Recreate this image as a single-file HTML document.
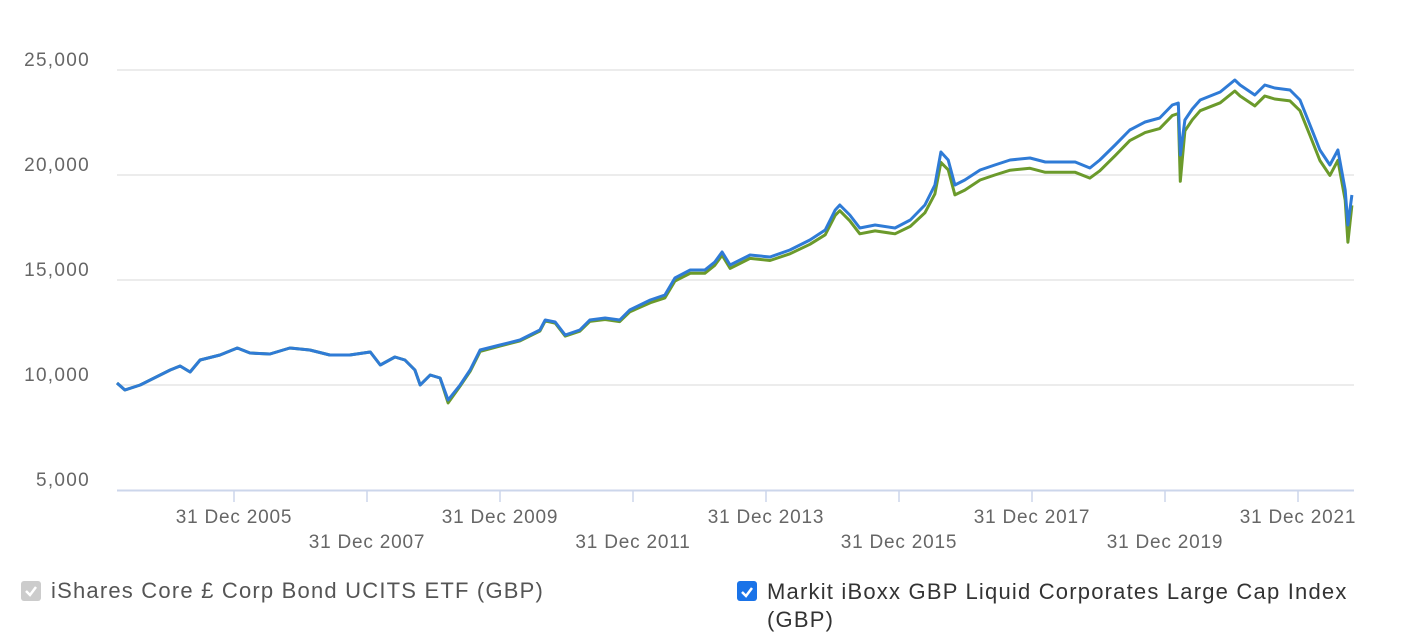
<!DOCTYPE html>
<html><head><meta charset="utf-8"><style>
body{margin:0;width:1420px;height:631px;background:#fff;font-family:"Liberation Sans",sans-serif;overflow:hidden;position:relative}
.leg{position:absolute;font-size:22px;color:#555;display:flex;align-items:flex-start;letter-spacing:1.2px}
.cb{width:20px;height:20px;border-radius:3px;margin-right:10px;margin-top:3px;flex:none;position:relative}
</style></head><body>
<svg width="1420" height="580" style="position:absolute;left:0;top:0" id="chart"></svg>
<div class="leg" style="left:21px;top:578px"><div class="cb" style="background:#ccc"><svg width="20" height="20"><path d="M5 10 L9 14 L15 6" stroke="#fff" stroke-width="2.5" fill="none"/></svg></div><span>iShares Core £ Corp Bond UCITS ETF (GBP)</span></div>
<div class="leg" style="left:737px;top:578px;width:650px;line-height:28px"><div class="cb" style="background:#1a73e8"><svg width="20" height="20"><path d="M5 10 L9 14 L15 6" stroke="#fff" stroke-width="2.5" fill="none"/></svg></div><span style="color:#333">Markit iBoxx GBP Liquid Corporates Large Cap Index (GBP)</span></div>
<script>
const dates=[2004.24,2004.36,2004.59,2005.04,2005.19,2005.34,2005.49,2005.79,2006.05,2006.24,2006.54,2006.84,2007.14,2007.44,2007.74,2008.05,2008.20,2008.42,2008.57,2008.72,2008.80,2008.95,2009.10,2009.22,2009.40,2009.55,2009.70,2010.00,2010.30,2010.60,2010.68,2010.83,2010.98,2011.20,2011.35,2011.58,2011.80,2011.95,2012.26,2012.48,2012.63,2012.86,2013.08,2013.23,2013.34,2013.46,2013.61,2013.76,2014.06,2014.36,2014.66,2014.89,2015.04,2015.11,2015.26,2015.41,2015.64,2015.94,2016.17,2016.39,2016.54,2016.63,2016.74,2016.84,2016.99,2017.22,2017.44,2017.67,2017.97,2018.20,2018.42,2018.65,2018.87,2019.02,2019.25,2019.47,2019.70,2019.92,2020.11,2020.20,2020.23,2020.30,2020.41,2020.53,2020.83,2021.05,2021.13,2021.35,2021.50,2021.65,2021.88,2022.03,2022.18,2022.33,2022.48,2022.60,2022.71,2022.75,2022.81];
const etfValues=[10095,9762,10000,10714,10905,10619,11190,11429,11762,11524,11476,11762,11667,11429,11429,11571,10952,11333,11190,10714,10000,10476,10333,9286,10000,10714,11667,11905,12143,12619,13095,13000,12381,12619,13095,13190,13095,13571,14048,14286,15095,15476,15476,15857,16333,15714,15952,16190,16095,16429,16905,17381,18333,18571,18095,17476,17619,17476,17857,18571,19524,21095,20714,19524,19762,20238,20476,20714,20810,20619,20619,20619,20333,20714,21429,22143,22524,22714,23333,23429,20952,22619,23143,23571,23952,24524,24286,23810,24286,24143,24048,23571,22381,21190,20476,21190,19286,17619,19048];
const indexValues=[10095,9762,10000,10714,10905,10619,11190,11429,11762,11524,11476,11762,11667,11429,11429,11571,10952,11333,11190,10714,10000,10476,10333,9150,9950,10650,11600,11850,12100,12570,13050,12950,12330,12560,13030,13120,13020,13480,13920,14150,14950,15320,15320,15700,16180,15550,15790,16030,15930,16250,16700,17150,18080,18300,17820,17200,17340,17200,17550,18200,19100,20600,20250,19050,19280,19760,20000,20230,20320,20130,20130,20130,19850,20200,20920,21640,22020,22210,22830,22930,19700,22100,22630,23060,23440,24000,23760,23290,23760,23620,23530,23060,21880,20690,19980,20700,18800,16800,18550];
const yTicks=[5000,10000,15000,20000,25000];
const xTickYears=[2005,2007,2009,2011,2013,2015,2017,2019,2021];
const NS="http://www.w3.org/2000/svg",svg=document.getElementById('chart');
const X=t=>234+(t-2006)*66.5, Y=v=>490-(v-5000)*105/5000;
function el(tag,attrs,txt){const e=document.createElementNS(NS,tag);for(const k in attrs)e.setAttribute(k,attrs[k]);if(txt!=null)e.textContent=txt;svg.appendChild(e);return e;}
yTicks.forEach(v=>{
 if(v>5000){const g=el('line',{x1:117,x2:1354,y1:Y(v),y2:Y(v),stroke:'#e6e6e6','stroke-width':1.5});
 
 }
 const t=el('text',{x:90,y:Y(v)-4,'text-anchor':'end','font-size':19,fill:'#666','letter-spacing':1.3,'font-family':'Liberation Sans, sans-serif'},v.toLocaleString('en-US'));
 
 
});
const ax=el('line',{x1:117,x2:1354,y1:490.5,y2:490.5,stroke:'#ccd6eb','stroke-width':2});


xTickYears.forEach((y,i)=>{
 const t=X(y+1);
 const tk=el('line',{x1:t,x2:t,y1:490,y2:502,stroke:'#ccd6eb','stroke-width':1.5});
 
 
 const lb=el('text',{x:t,y:i%2==0?523:548,'text-anchor':'middle','font-size':19,fill:'#666','letter-spacing':0.8,'font-family':'Liberation Sans, sans-serif'},'31 Dec '+y);
 
 
});
function line(vals,color,name){
 const p=el('polyline',{points:vals.map((v,i)=>X(dates[i]).toFixed(1)+','+Y(v).toFixed(1)).join(' '),fill:'none',stroke:color,'stroke-width':3,'stroke-linejoin':'round'});
 
 
}
line(indexValues,'#6b9a2b','index-series-line');
line(etfValues,'#2f7bd6','etf-series-line');
</script>
</body></html>
